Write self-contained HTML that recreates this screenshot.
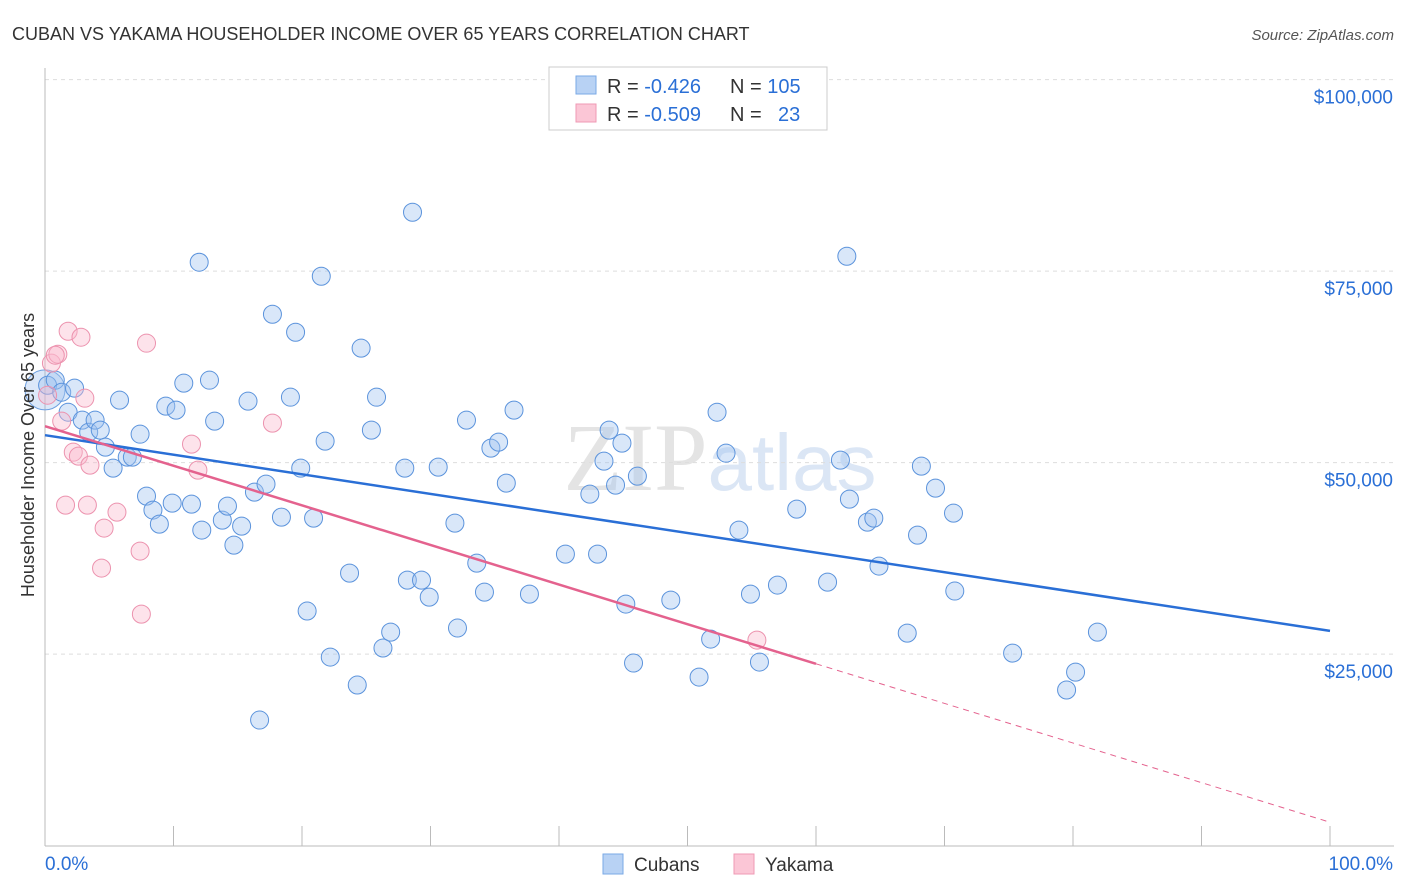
<!DOCTYPE html>
<html><head><meta charset="utf-8">
<style>
body{margin:0;background:#fff;font-family:"Liberation Sans",sans-serif;}
svg{display:block}
</style></head>
<body>
<svg id="chart" width="1406" height="892" xmlns="http://www.w3.org/2000/svg">
<text x="12" y="40" font-size="18" fill="#333">CUBAN VS YAKAMA HOUSEHOLDER INCOME OVER 65 YEARS CORRELATION CHART</text>
<text x="1394" y="40" font-size="15" fill="#555" font-style="italic" text-anchor="end">Source: ZipAtlas.com</text>
<text x="720" y="490" font-size="96" fill="#e4e4e4" text-anchor="middle" font-family="Liberation Serif,serif">ZIP<tspan fill="#dbe6f5" font-family="Liberation Sans,sans-serif" font-size="80">atlas</tspan></text>
<g id="grid"></g>
<g id="axes"></g>
<g id="marks"></g>
<text transform="translate(34,455) rotate(-90)" font-size="18" fill="#333" text-anchor="middle">Householder Income Over 65 years</text>
<g>
<rect x="549" y="67" width="278" height="63" fill="#fff" stroke="#ccc"/>
<rect x="576" y="76" width="20" height="18" fill="#b8d2f4" stroke="#7aa9e6"/>
<rect x="576" y="104" width="20" height="18" fill="#fbc6d6" stroke="#ef9ab4"/>
<text x="607" y="93" font-size="20" fill="#333">R = <tspan fill="#2a6fd6">-0.426</tspan><tspan x="730">N = </tspan><tspan fill="#2a6fd6">105</tspan></text>
<text x="607" y="121" font-size="20" fill="#333">R = <tspan fill="#2a6fd6">-0.509</tspan><tspan x="730">N = </tspan><tspan fill="#2a6fd6" x="778">23</tspan></text>
</g>
<g>
<rect x="603" y="854" width="20" height="20" fill="#b8d2f4" stroke="#7aa9e6"/>
<text x="634" y="871" font-size="19" fill="#333">Cubans</text>
<rect x="734" y="854" width="20" height="20" fill="#fbc6d6" stroke="#ef9ab4"/>
<text x="765" y="871" font-size="19" fill="#333">Yakama</text>
</g>
</svg>
<script>
const yTicks=[25000,50000,75000,100000];
const yTickLabels=["$25,000","$50,000","$75,000","$100,000"];
const cubanX=[0.2,0.8,1.3,1.8,2.3,2.9,3.4,3.9,4.3,4.7,5.3,5.8,6.4,6.8,7.4,7.9,8.4,8.9,9.4,9.9,10.2,10.8,11.4,12.0,12.2,12.8,13.2,13.8,14.2,14.7,15.3,15.8,16.3,16.7,17.2,17.7,18.4,19.1,19.5,19.9,20.4,20.9,21.5,21.8,22.2,23.7,24.3,24.6,25.4,25.8,26.3,26.9,28.0,28.2,28.6,29.3,29.9,30.6,31.9,32.1,32.8,33.6,34.2,34.7,35.3,35.9,36.5,37.7,40.5,42.4,43.0,43.5,43.9,44.4,44.9,45.2,45.8,46.1,48.7,50.9,51.8,52.3,53.0,54.0,54.9,55.6,57.0,58.5,60.9,61.9,62.4,62.6,64.0,64.5,64.9,67.1,67.9,68.2,69.3,70.7,70.8,75.3,79.5,80.2,81.9];
const cubanY=[60100,60760,59190,56580,59720,55540,53970,55540,54240,52020,49280,58150,50710,50710,53710,45620,43800,41970,57370,44710,56850,60370,44580,76160,41190,60760,55410,42490,44320,39230,41710,58020,46140,16390,47190,69370,42880,58540,67020,49280,30620,42750,74330,52800,24610,35570,20960,64940,54240,58540,25790,27870,49280,34660,82680,34660,32440,49410,42100,28400,55540,36880,33090,51890,52670,47320,56850,32830,38050,45880,38050,50190,54240,47060,52540,31530,23830,48230,32050,22000,26960,56580,51230,41190,32830,23960,34010,43930,34400,50320,76940,45230,42230,42750,36490,27740,40530,49540,46670,43400,33230,25130,20310,22650,27870];
const yakamaX=[0.2,0.5,1.0,1.3,1.8,2.2,2.6,2.8,3.1,3.3,3.5,4.4,4.6,5.6,7.4,7.5,7.9,11.4,11.9,17.7,55.4,1.6,0.8];
const yakamaY=[58800,62980,64150,55410,67150,51360,50840,66370,58410,44450,49670,36230,41450,43530,38450,30220,65590,52410,49020,55150,26830,44450,64020];
const cubanTrend=[53580,28030];
const yakamaTrend=[54760,3050];
const yakamaSolidEnd=60;

const X0=45,X1=1330,YB=845.6,PPU=191.5/25000;
const sx=v=>X0+(X1-X0)*v/100;
const sy=v=>YB-v*PPU;
const NS="http://www.w3.org/2000/svg";
function mk(tag,attrs,parent){const e=document.createElementNS(NS,tag);for(const k in attrs)e.setAttribute(k,attrs[k]);parent.appendChild(e);return e;}
const grid=document.getElementById('grid'),axes=document.getElementById('axes'),marks=document.getElementById('marks');
yTicks.forEach((t,i)=>{
  const g=mk('line',{x1:X0,x2:1394,y1:sy(t),y2:sy(t),stroke:'#ddd','stroke-dasharray':'4,4'},grid);
  
  
  const l=mk('text',{x:1393,y:sy(t)+24,'font-size':19,fill:'#2a6fd6','text-anchor':'end'},axes);
  l.textContent=yTickLabels[i];
  
  
});
const ya=mk('line',{x1:X0,x2:X0,y1:68,y2:846,stroke:'#bbb'},axes);


const xa=mk('line',{x1:X0,x2:1394,y1:846,y2:846,stroke:'#bbb'},axes);


for(let i=0;i<=10;i++){
  const t=mk('line',{x1:sx(i*10),x2:sx(i*10),y1:826,y2:846,stroke:'#bbb'},axes);
  
  
}
const xl0=mk('text',{x:45,y:870,'font-size':19,fill:'#2a6fd6'},axes);xl0.textContent='0.0%';


const xl1=mk('text',{x:1393,y:870,'font-size':19,fill:'#2a6fd6','text-anchor':'end'},axes);xl1.textContent='100.0%';



const big=mk('circle',{cx:sx(0),cy:sy(59500),r:20,fill:'rgba(140,180,235,0.3)',stroke:'#6ea0e0','stroke-width':1},marks);


cubanX.forEach((x,i)=>{
  const c=mk('circle',{cx:sx(x),cy:sy(cubanY[i]),r:9,fill:'rgba(160,196,240,0.4)',stroke:'#5b93dc','stroke-width':1},marks);
  
  
});
yakamaX.forEach((x,i)=>{
  const c=mk('circle',{cx:sx(x),cy:sy(yakamaY[i]),r:9,fill:'rgba(250,185,205,0.4)',stroke:'#ec92ae','stroke-width':1},marks);
  
  
});
const ct=mk('line',{x1:sx(0),y1:sy(cubanTrend[0]),x2:sx(100),y2:sy(cubanTrend[1]),stroke:'#2a6fd6','stroke-width':2.5},marks);


const ym=yakamaTrend[0]+(yakamaTrend[1]-yakamaTrend[0])*yakamaSolidEnd/100;
const yt=mk('line',{x1:sx(0),y1:sy(yakamaTrend[0]),x2:sx(yakamaSolidEnd),y2:sy(ym),stroke:'#e4628e','stroke-width':2.5},marks);


const yd=mk('line',{x1:sx(yakamaSolidEnd),y1:sy(ym),x2:sx(100),y2:sy(yakamaTrend[1]),stroke:'#e4628e','stroke-width':1,'stroke-dasharray':'6,5'},marks);


</script>
</body></html>
